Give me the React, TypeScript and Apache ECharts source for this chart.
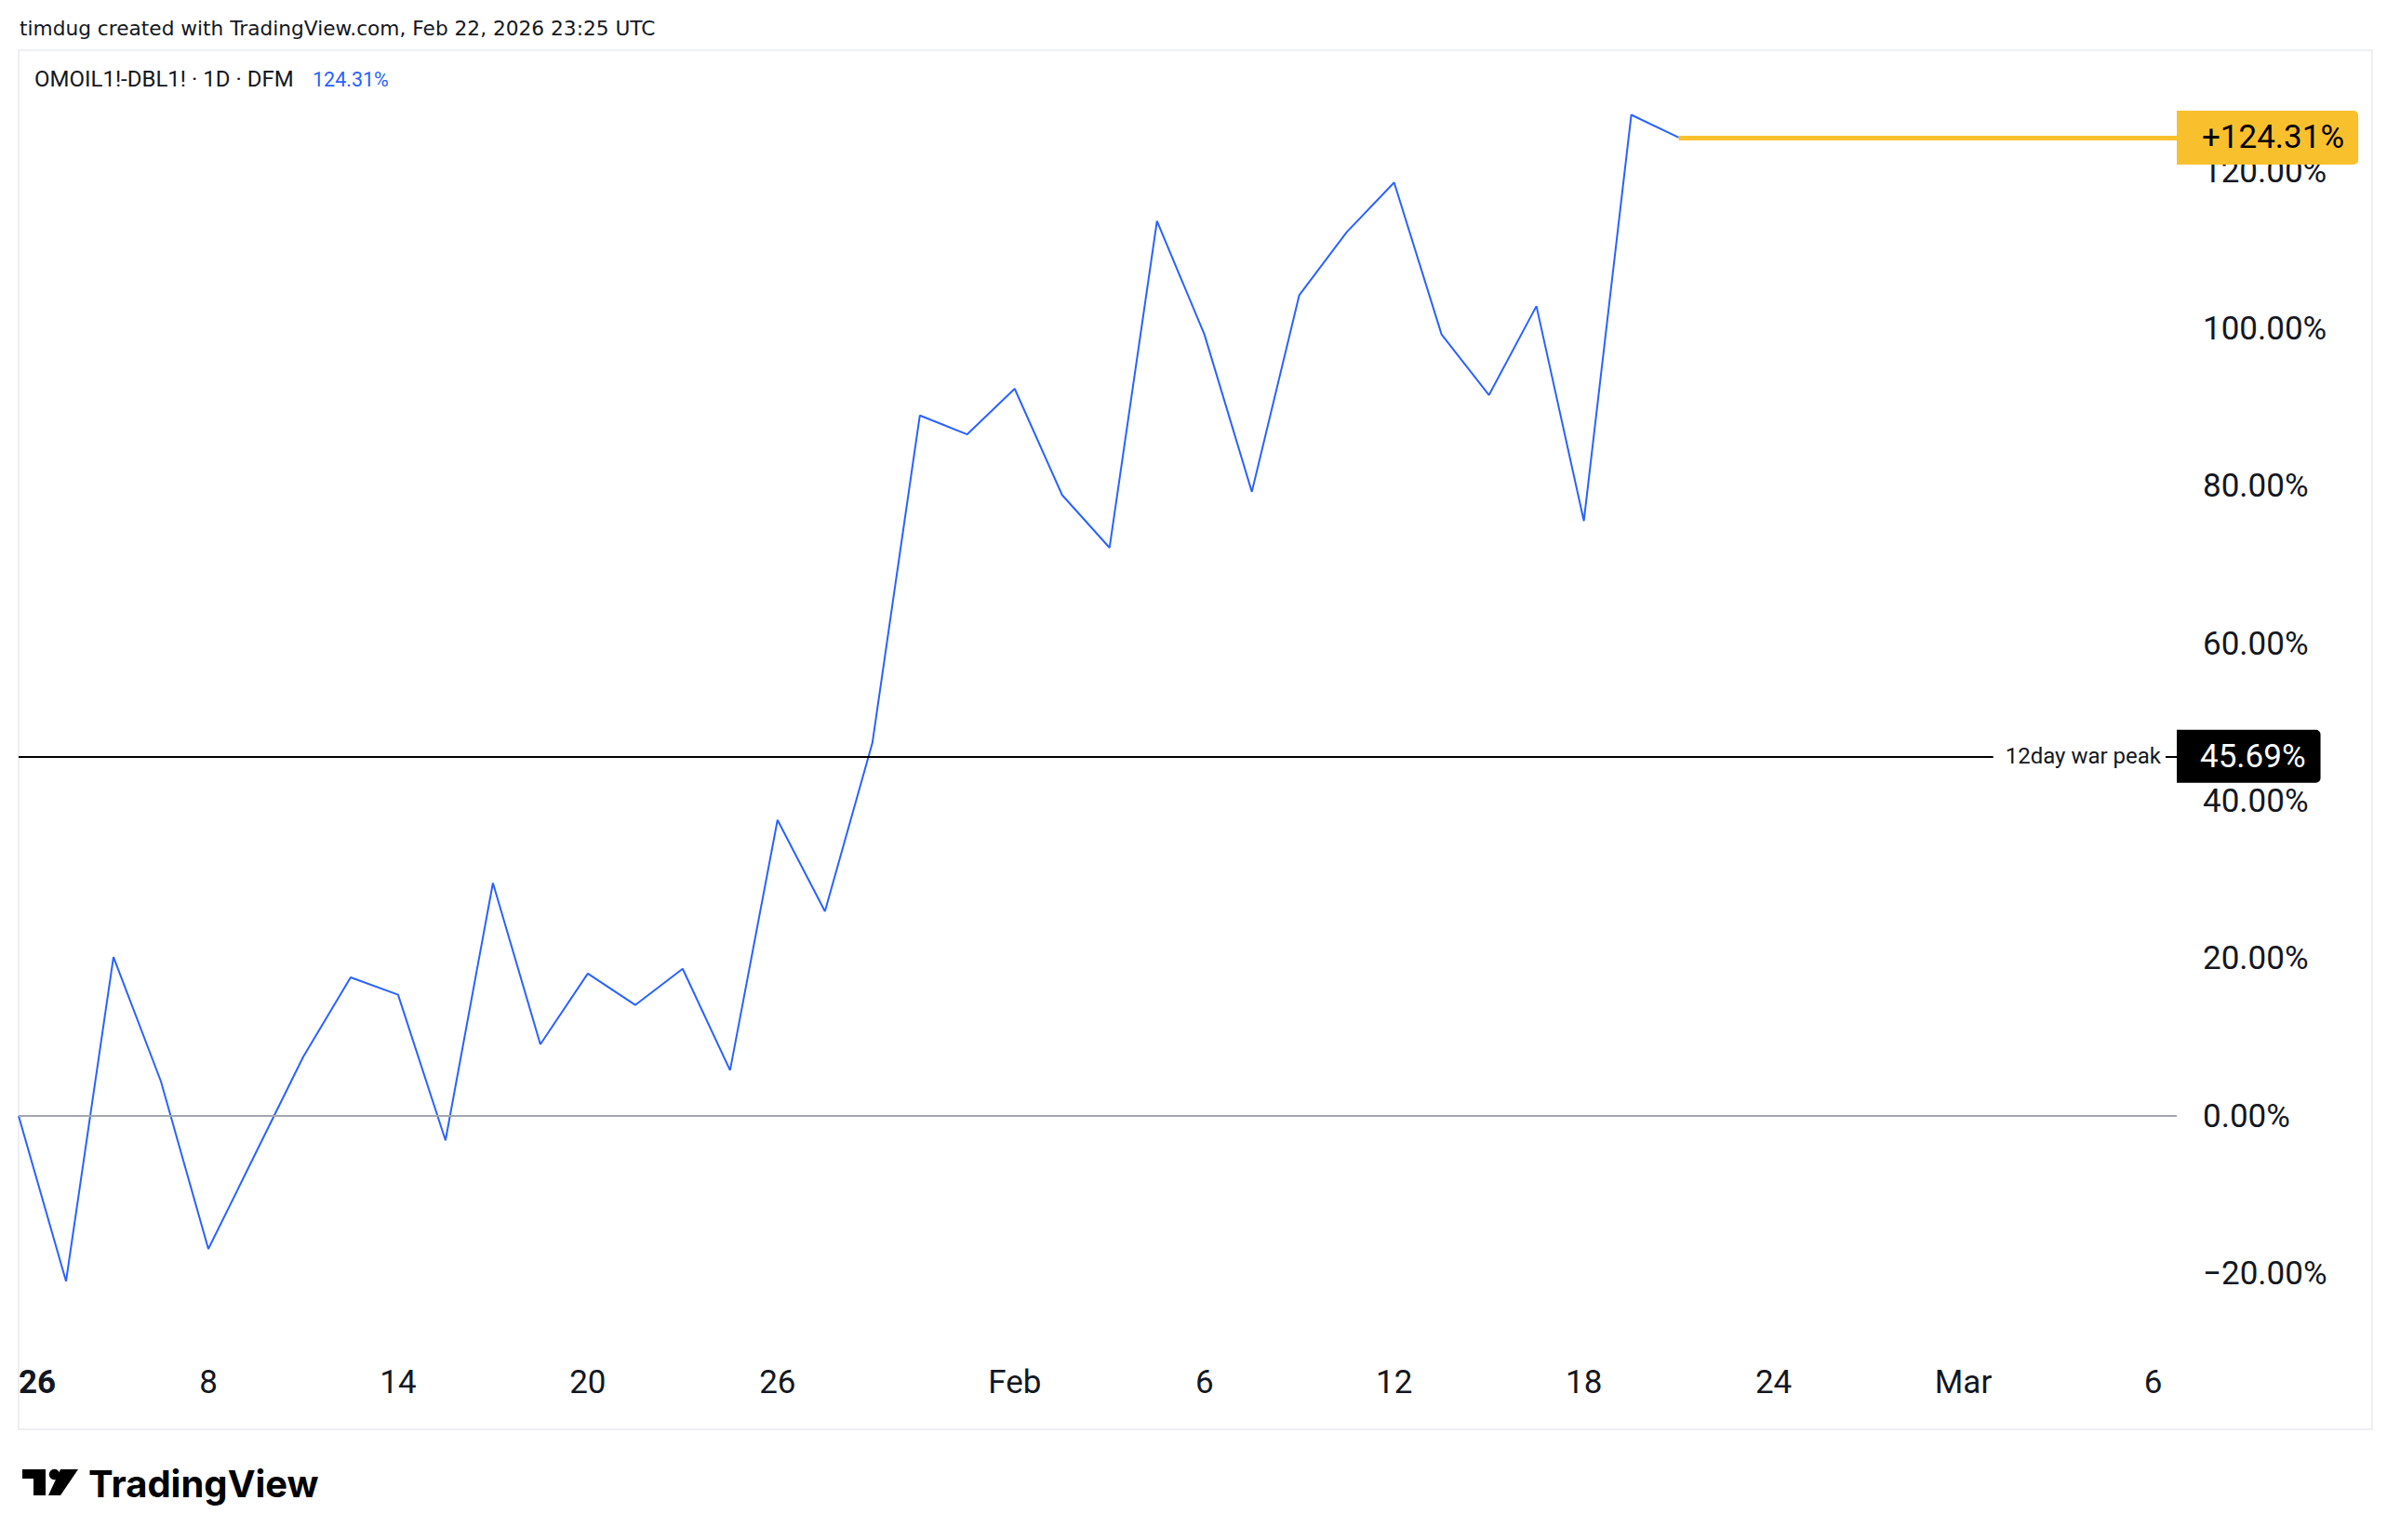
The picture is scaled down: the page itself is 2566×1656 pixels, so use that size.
import React, { useEffect, useRef } from "react";
import * as echarts from "echarts";

// ---- data ----
const tradingDays: string[] = [
  "2026-01-02", "2026-01-05", "2026-01-06", "2026-01-07", "2026-01-08", "2026-01-09",
  "2026-01-12", "2026-01-13", "2026-01-14", "2026-01-15", "2026-01-16",
  "2026-01-19", "2026-01-20", "2026-01-21", "2026-01-22", "2026-01-23",
  "2026-01-26", "2026-01-27", "2026-01-28", "2026-01-29", "2026-01-30",
  "2026-02-02", "2026-02-03", "2026-02-04", "2026-02-05", "2026-02-06",
  "2026-02-09", "2026-02-10", "2026-02-11", "2026-02-12", "2026-02-13",
  "2026-02-16", "2026-02-17", "2026-02-18", "2026-02-19", "2026-02-20",
  "2026-02-23", "2026-02-24", "2026-02-25", "2026-02-26", "2026-02-27",
  "2026-03-02", "2026-03-03", "2026-03-04", "2026-03-05", "2026-03-06",
];

// OMOIL1!-DBL1! change in % since first bar (one value per trading day)
const spreadPct: number[] = [
  0, -21.0, 20.2, 4.4, -16.9, -4.7, 7.5, 17.6, 15.4, -3.1, 29.6, 9.1,
  18.1, 14.1, 18.7, 5.8, 37.6, 26.0, 47.4, 89.0, 86.6, 92.4, 78.9, 72.2,
  113.7, 99.3, 79.3, 104.3, 112.3, 118.6, 99.3, 91.6, 102.9, 75.6, 127.2, 124.31,
];

const yTicks: number[] = [-20, 0, 20, 40, 60, 80, 100, 120];
const yRange: number[] = [-30.13, 135.41];
const xTickIndex: number[] = [0, 4, 8, 12, 16, 21, 25, 29, 33, 37, 41, 45];
const xTickLabels: string[] = ["2026", "8", "14", "20", "26", "Feb", "6", "12", "18", "24", "Mar", "6"];

const warPeakValue = 45.69;
const warPeakName = "12day war peak";
const symbolName = "OMOIL1!-DBL1! \u00b7 1D \u00b7 DFM";
const headerText = "timdug created with TradingView.com, Feb 22, 2026 23:25 UTC";

const AXIS_FONT = "Roboto, 'Liberation Sans', sans-serif";
const TEXT_COLOR = "#131722";

export default function App() {
  const ref = useRef<HTMLDivElement>(null);

  useEffect(() => {
    if (!ref.current) return;
    const chart = echarts.init(ref.current, null, { renderer: "svg" });

    const last = spreadPct.length - 1;
    const lastVal = spreadPct[last];
    const xMax = tradingDays.length - 0.5;

    const option: any = {
      animation: false,
      backgroundColor: "#ffffff",
      grid: {
        left: 20,
        right: 226,
        top: 54,
        bottom: 201,
        containLabel: false,
        outerBoundsMode: "none",
      },
      xAxis: {
        type: "value",
        min: 0,
        max: xMax,
        axisLine: { show: false },
        axisTick: { show: false },
        splitLine: { show: false },
        axisLabel: {
          customValues: xTickIndex,
          margin: 14,
          fontSize: 35,
          fontFamily: AXIS_FONT,
          color: TEXT_COLOR,
          formatter: (v: number) => {
            const k = xTickIndex.indexOf(Math.round(v));
            if (k < 0) return "";
            return k === 0 ? `{yr|${xTickLabels[k]}}` : xTickLabels[k];
          },
          rich: {
            yr: { fontSize: 35, fontWeight: "bold", fontFamily: AXIS_FONT, color: TEXT_COLOR },
          },
        },
      },
      yAxis: {
        type: "value",
        position: "right",
        min: yRange[0],
        max: yRange[1],
        axisLine: { show: false },
        axisTick: { show: false },
        splitLine: { show: false },
        axisLabel: {
          customValues: yTicks,
          align: "left",
          margin: 28,
          fontSize: 35,
          fontFamily: AXIS_FONT,
          color: TEXT_COLOR,
          formatter: (v: number) =>
            (v < 0 ? "\u2212" + Math.abs(v).toFixed(2) : v.toFixed(2)) + "%",
        },
      },
      series: [
        {
          type: "line",
          data: spreadPct.map((v, i) => [i, v]),
          showSymbol: false,
          symbol: "none",
          lineStyle: { color: "#2962FF", width: 2 },
          z: 3,
          markLine: {
            silent: true,
            symbol: ["none", "none"],
            animation: false,
            data: [
              {
                yAxis: 0,
                lineStyle: { color: "#A3A6AF", width: 2, type: "solid" },
                label: { show: false },
              },
              {
                yAxis: warPeakValue,
                lineStyle: { color: "#000000", width: 2, type: "solid" },
                label: {
                  show: true,
                  position: "end",
                  distance: 0,
                  formatter: warPeakValue.toFixed(2) + "%",
                  color: "#ffffff",
                  backgroundColor: "#000000",
                  fontSize: 35,
                  fontFamily: AXIS_FONT,
                  lineHeight: 38,
                  padding: [10, 16, 9, 25],
                  borderRadius: [0, 5, 5, 0],
                },
              },
              {
                yAxis: warPeakValue,
                lineStyle: { color: "rgba(0,0,0,0)", width: 0, type: "solid" },
                label: {
                  show: true,
                  position: "insideEnd",
                  distance: 12,
                  formatter: warPeakName,
                  color: TEXT_COLOR,
                  backgroundColor: "#ffffff",
                  fontSize: 24,
                  fontFamily: AXIS_FONT,
                  padding: [3, 5, 3, 13],
                },
              },
              [
                {
                  coord: [last, lastVal],
                  lineStyle: { color: "#F9C02E", width: 5, type: "solid" },
                  label: {
                    show: true,
                    position: "end",
                    distance: 0,
                    formatter: "+" + lastVal.toFixed(2) + "%",
                    color: "#000000",
                    backgroundColor: "#F9C02E",
                    fontSize: 35,
                    fontFamily: AXIS_FONT,
                    lineHeight: 38,
                    padding: [10, 15, 10, 27],
                    borderRadius: [0, 5, 5, 0],
                  },
                },
                { coord: [xMax, lastVal] },
              ],
            ],
          },
        },
      ],
      graphic: [
        {
          type: "rect",
          z: 0,
          silent: true,
          shape: { x: 20, y: 54, width: 2530, height: 1483 },
          style: { fill: "none", stroke: "#EDEFF3", lineWidth: 2 },
        },
        {
          type: "rect",
          z: 100,
          silent: true,
          shape: { x: 0, y: 1440, width: 19, height: 100 },
          style: { fill: "#ffffff" },
        },
        {
          type: "text",
          z: 100,
          x: 21,
          y: 30,
          style: {
            text: headerText,
            fill: TEXT_COLOR,
            fontSize: 21.7,
            fontFamily: "'DejaVu Sans', sans-serif",
            verticalAlign: "middle",
            align: "left",
          },
        },
        {
          type: "text",
          z: 100,
          x: 37,
          y: 85,
          style: {
            text: symbolName,
            fill: TEXT_COLOR,
            fontSize: 24,
            fontFamily: AXIS_FONT,
            verticalAlign: "middle",
            align: "left",
          },
        },
        {
          type: "text",
          z: 100,
          x: 336,
          y: 85,
          style: {
            text: lastVal.toFixed(2) + "%",
            fill: "#2962FF",
            fontSize: 21.5,
            fontFamily: AXIS_FONT,
            verticalAlign: "middle",
            align: "left",
          },
        },
        // TradingView logo mark
        {
          type: "rect",
          z: 100,
          shape: { x: 24, y: 1580, width: 25, height: 10 },
          style: { fill: "#000000" },
        },
        {
          type: "rect",
          z: 100,
          shape: { x: 36, y: 1580, width: 13, height: 28 },
          style: { fill: "#000000" },
        },
        {
          type: "circle",
          z: 100,
          shape: { cx: 58.5, cy: 1585.5, r: 5.7 },
          style: { fill: "#000000" },
        },
        {
          type: "polygon",
          z: 100,
          shape: { points: [[65, 1580], [84, 1580], [65, 1608], [52, 1608]] },
          style: { fill: "#000000" },
        },
        {
          type: "text",
          z: 100,
          x: 95,
          y: 1595,
          style: {
            text: "TradingView",
            fill: "#000000",
            fontSize: 40,
            fontWeight: 700,
            fontFamily: "Inter, Roboto, sans-serif",
            verticalAlign: "middle",
            align: "left",
          },
        },
      ],
    };

    chart.setOption(option);
    return () => chart.dispose();
  }, []);

  return (
    <div
      ref={ref}
      style={{
        position: "fixed",
        left: 0,
        top: 0,
        width: "2566px",
        height: "1656px",
        background: "#ffffff",
      }}
    />
  );
}
